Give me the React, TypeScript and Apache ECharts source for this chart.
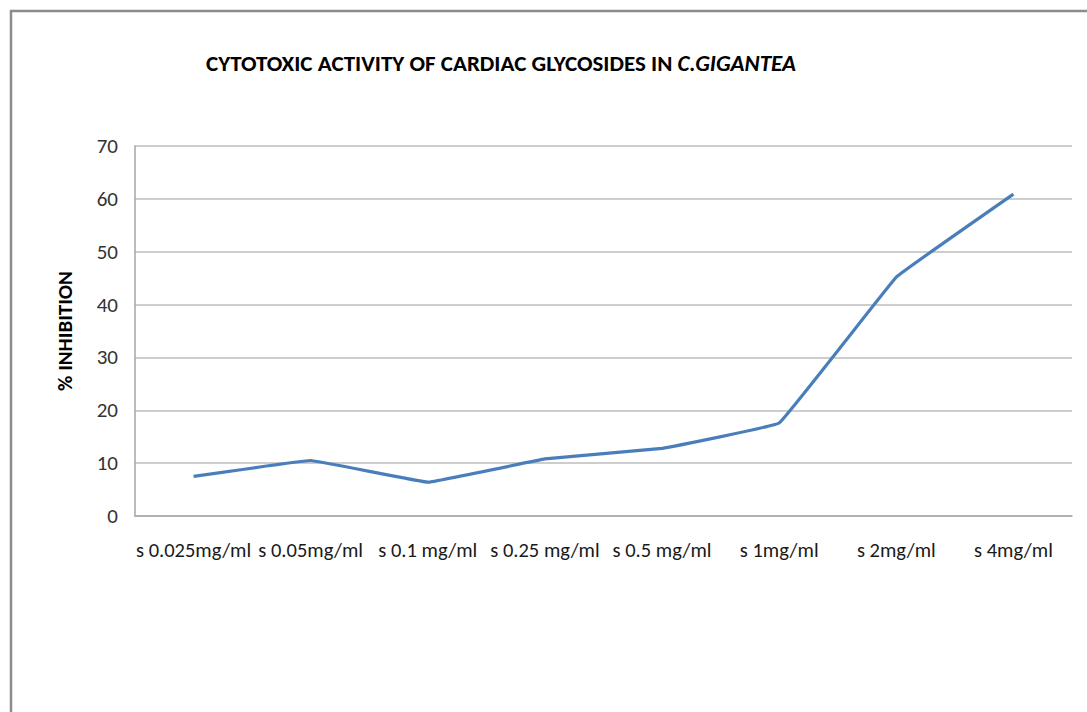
import React, { useEffect, useRef } from "react";
import * as echarts from "echarts";

const categories = [
  "s 0.025mg/ml",
  "s 0.05mg/ml",
  "s 0.1 mg/ml",
  "s 0.25 mg/ml",
  "s 0.5 mg/ml",
  "s 1mg/ml",
  "s 2mg/ml",
  "s 4mg/ml",
];
const inhibition = [7.5, 10.5, 6.4, 10.8, 12.8, 17.6, 45.2, 60.9];
const yTicks = { min: 0, max: 70, interval: 10 };

const FONT = 'Carlito, Lato, "Open Sans", sans-serif';

export default function App() {
  const ref = useRef<HTMLDivElement>(null);
  useEffect(() => {
    if (!ref.current) return;
    const chart = echarts.init(ref.current, undefined, { renderer: "svg" });
    chart.setOption({
      animation: false,
      backgroundColor: "#ffffff",
      title: {
        text: "{b|CYTOTOXIC ACTIVITY OF CARDIAC GLYCOSIDES IN }{i|C.GIGANTEA}",
        left: 496,
        top: 46,
        textAlign: "center",
        textStyle: {
          rich: {
            b: { fontFamily: FONT, fontWeight: "bold", fontSize: 23, color: "#000" },
            i: { fontFamily: FONT, fontWeight: "bold", fontStyle: "italic", fontSize: 23, color: "#000" },
          },
        },
      },
      graphic: [
        {
          type: "rect",
          shape: { x: 11, y: 11, width: 1200, height: 800 },
          style: { fill: "none", stroke: "#8c8c8c", lineWidth: 2.5 },
          silent: true,
        },
      ],
      grid: { left: 135, right: 15, top: 146, bottom: 196 },
      xAxis: {
        type: "category",
        data: categories,
        boundaryGap: true,
        axisLine: { show: true, lineStyle: { color: "#a6a6a6", width: 1.5 } },
        axisTick: { show: false },
        axisLabel: {
          interval: 0,
          margin: 23,
          fontFamily: FONT,
          fontSize: 20.5,
          color: "#1a1a1a",
        },
      },
      yAxis: {
        type: "value",
        min: yTicks.min,
        max: yTicks.max,
        interval: yTicks.interval,
        name: "% INHIBITION",
        nameLocation: "middle",
        nameGap: 60,
        nameRotate: 90,
        nameTextStyle: { fontFamily: FONT, fontWeight: "bold", fontSize: 21, color: "#000" },
        axisLine: { show: true, lineStyle: { color: "#a6a6a6", width: 1.5 } },
        axisTick: { show: false },
        axisLabel: { margin: 17, fontFamily: FONT, fontSize: 21, color: "#333" },
        splitLine: { lineStyle: { color: "#bdbdbd", width: 1.5 } },
      },
      series: [
        {
          type: "line",
          data: inhibition,
          smooth: 0.05,
          symbol: "none",
          lineStyle: { color: "#4a7ebb", width: 3.2 },
        },
      ],
    });
    return () => chart.dispose();
  }, []);
  return (
    <div
      ref={ref}
      style={{ position: "absolute", left: 0, top: 0, width: 1087, height: 712 }}
    />
  );
}
